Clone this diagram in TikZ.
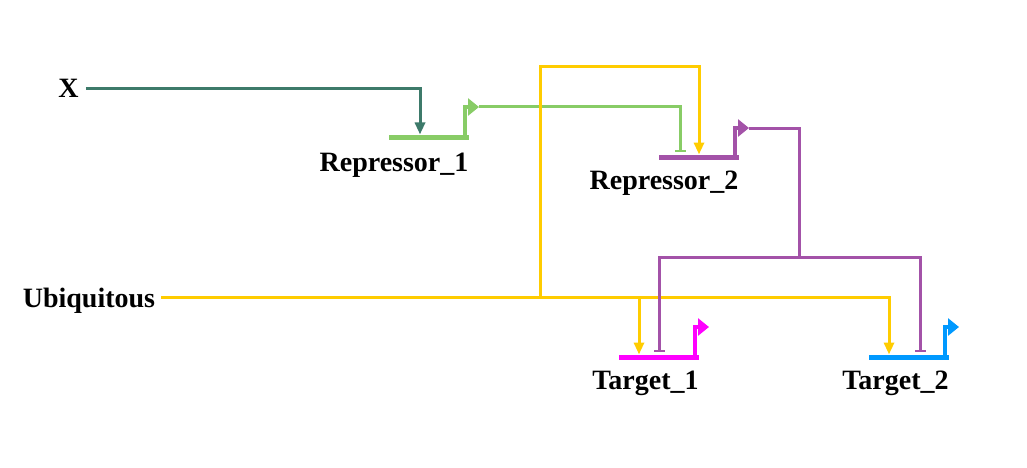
\documentclass[tikz,border=0pt]{standalone}
\usepackage{fontspec}
\setmainfont{Liberation Serif}
\usetikzlibrary{arrows.meta}
\definecolor{xgreen}{RGB}{61,122,106}
\definecolor{lgreen}{RGB}{136,204,102}
\definecolor{rpurple}{RGB}{163,82,168}
\definecolor{uyellow}{RGB}{255,204,0}
\definecolor{tmagenta}{RGB}{255,0,255}
\definecolor{tblue}{RGB}{0,153,255}
\begin{document}
\begin{tikzpicture}[x=1pt,y=-1pt,
  lbl/.style={inner sep=0pt,anchor=base,font=\fontsize{28}{30}\selectfont\bfseries},
  genebar/.style={line width=5pt},
  prom/.style={line width=4pt,-{Triangle[length=11pt,width=17pt]}},
  link/.style={line width=3pt},
  act/.style={link,-{Triangle[length=12pt,width=10pt]}},
  rep/.style={link,-{Bar[width=11pt,line width=2pt]}}]
\useasboundingbox (0,0) rectangle (1027,468);
% labels
\node[lbl] (X) at (68.5,98) {X};
\node[lbl] (ub) at (89,307) {Ubiquitous};
\node[lbl] (r1l) at (394,171) {Repressor\_1};
\node[lbl] (r2l) at (664,189) {Repressor\_2};
\node[lbl] (t1l) at (645.5,389) {Target\_1};
\node[lbl] (t2l) at (895.5,389) {Target\_2};
% gene bars
\coordinate (r1a) at (389,137); \coordinate (r1b) at (469,137);
\coordinate (r2a) at (659,157); \coordinate (r2b) at (739,157);
\coordinate (t1a) at (619,357); \coordinate (t1b) at (699,357);
\coordinate (t2a) at (869,357); \coordinate (t2b) at (949,357);
\draw[genebar,lgreen] (r1a) -- (r1b);
\draw[genebar,rpurple] (r2a) -- (r2b);
\draw[genebar,tmagenta] (t1a) -- (t1b);
\draw[genebar,tblue] (t2a) -- (t2b);
% promoters
\coordinate (r1tip) at (479,107);
\coordinate (r2tip) at (749,128);
\coordinate (t1tip) at (709,327);
\coordinate (t2tip) at (959,327);
\draw[prom,lgreen] (465,139.5) |- (r1tip);
\draw[prom,rpurple] (735,159.5) |- (r2tip);
\draw[prom,tmagenta] (695,359.5) |- (t1tip);
\draw[prom,tblue] (945,359.5) |- (t2tip);
% X -> Repressor_1
\coordinate (r1in) at (420,134.5);
\draw[act,xgreen] ([xshift=7pt]X.east) -| (r1in);
% Repressor_1 -| Repressor_2
\coordinate (r2rep) at (680,152);
\draw[rep,lgreen] (r1tip) -| (r2rep);
% Ubiquitous
\coordinate (uy) at ([shift={(6pt,10pt)}]ub.base east);
\coordinate (j1) at (540,297);
\coordinate (j2) at (639,297);
\coordinate (r2in) at (699,154.5);
\coordinate (t1in) at (639,354.5);
\coordinate (t2in) at (889,354.5);
\draw[act,uyellow] (uy) -| (t2in);
\draw[act,uyellow] (j1) -- (540,67) -| (r2in);
\draw[act,uyellow] (j2) -- (t1in);
% Repressor_2 -| targets
\coordinate (pj) at (799,257);
\coordinate (t1rep) at (659,352);
\coordinate (t2rep) at (920,352);
\draw[link,rpurple] (r2tip) -| (pj);
\draw[rep,rpurple] (pj) -| (t1rep);
\draw[rep,rpurple] (pj) -| (t2rep);
\end{tikzpicture}
\end{document}
